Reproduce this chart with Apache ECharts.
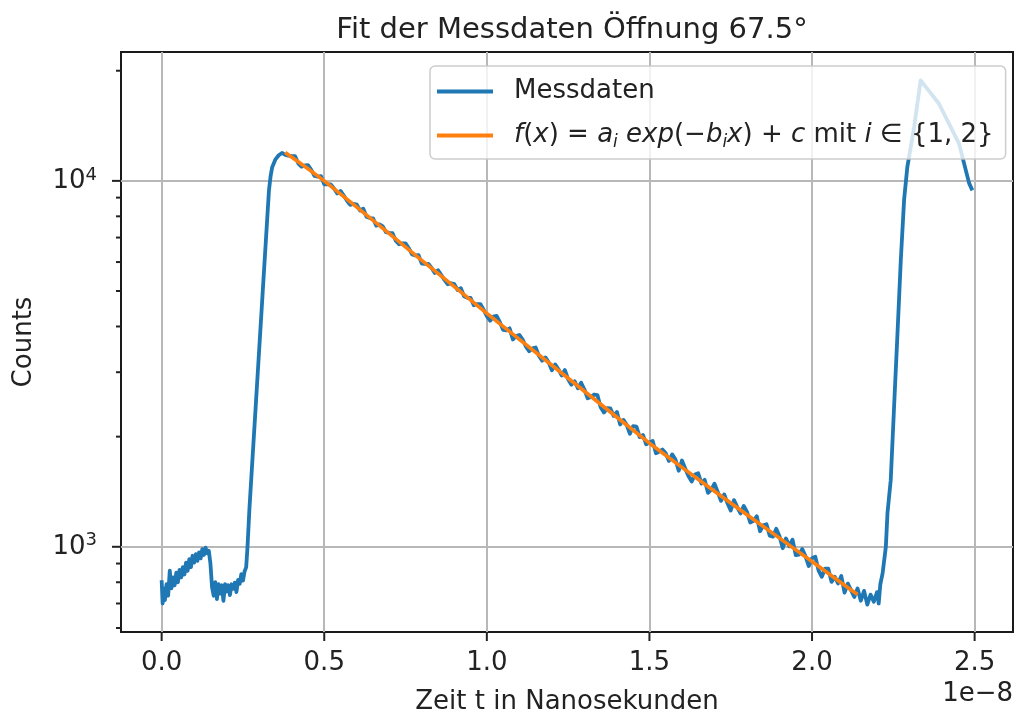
<!DOCTYPE html>
<html>
<head>
<meta charset="utf-8">
<script src="https://cdn.jsdelivr.net/npm/echarts@6/dist/echarts.min.js"></script>
<style>
  html, body { margin: 0; padding: 0; background: #fff; }
  #chart { width: 1016px; height: 720px; }
</style>
</head>
<body>
<div id="chart"></div>
<script>
// Zeit in Einheiten von 1e-8 s, Counts pro Kanal
// Untergrund vor dem Puls
const vorlauf = [
  [0.000,810],[0.003,700],[0.006,770],[0.010,715],[0.015,790],[0.020,735],[0.025,860],[0.030,770],
  [0.035,825],[0.040,785],[0.045,850],[0.050,800],[0.055,865],[0.060,825],[0.065,880],[0.070,840],
  [0.075,905],[0.080,860],[0.085,925],[0.090,880],[0.095,945],[0.100,905],[0.105,955],[0.110,915],
  [0.115,965],[0.120,930],[0.125,985],[0.130,950],[0.135,995],[0.140,960],[0.145,975],[0.150,900],
  [0.155,775],[0.160,735],[0.165,800],[0.170,720],[0.175,790],[0.180,745],[0.185,785],[0.190,712],
  [0.195,790],[0.200,755],[0.205,785],[0.210,738],[0.215,790],[0.220,768],[0.225,798],[0.230,752],
  [0.235,812],[0.240,792],[0.245,842],[0.250,808],[0.255,856],[0.260,880]
];
// Anstieg des Pulses
const anstieg = [
  [0.264,1000],[0.270,1274],[0.280,1780],[0.290,2480],[0.300,3470],[0.310,4840],[0.320,6760],
  [0.330,9420],[0.335,10300],[0.340,10900],[0.350,11450],[0.360,11750],[0.370,11920]
];
// Exponentieller Abfall
const abfall = [
  [0.38,11780],[0.39,11725],[0.40,11687],[0.41,11688],[0.42,11166],[0.43,10936],[0.44,11021],[0.45,11038],
  [0.46,10723],[0.47,10320],[0.48,10278],[0.49,10305],[0.50,9790],[0.51,9777],[0.52,9780],[0.53,9534],
  [0.54,9236],[0.55,9388],[0.56,9116],[0.57,8824],[0.58,8600],[0.59,8657],[0.60,8608],[0.61,8300],
  [0.62,8393],[0.63,7980],[0.64,7912],[0.65,7899],[0.66,7547],[0.67,7604],[0.68,7509],[0.69,7240],
  [0.70,7207],[0.71,7192],[0.72,6865],[0.73,6709],[0.74,6751],[0.75,6751],[0.76,6547],[0.77,6292],
  [0.78,6256],[0.79,6263],[0.80,5940],[0.81,5931],[0.82,5934],[0.83,5784],[0.84,5603],[0.85,5696],
  [0.86,5530],[0.87,5353],[0.88,5217],[0.89,5252],[0.90,5222],[0.91,5034],[0.92,5089],[0.93,4838],
  [0.94,4796],[0.95,4787],[0.96,4573],[0.97,4607],[0.98,4606],[0.99,4446],[1.00,4267],[1.01,4147],
  [1.02,4255],[1.03,4278],[1.04,4111],[1.05,3916],[1.06,3904],[1.07,3953],[1.08,3686],[1.09,3765],
  [1.10,3793],[1.11,3684],[1.12,3528],[1.13,3422],[1.14,3487],[1.15,3505],[1.16,3328],[1.17,3225],
  [1.18,3293],[1.19,3191],[1.20,3037],[1.21,3151],[1.22,3057],[1.23,2939],[1.24,3041],[1.25,2868],
  [1.26,2773],[1.27,2834],[1.28,2712],[1.29,2808],[1.30,2690],[1.31,2547],[1.32,2568],[1.33,2607],
  [1.34,2598],[1.35,2405],[1.36,2328],[1.37,2391],[1.38,2389],[1.39,2279],[1.40,2335],[1.41,2159],
  [1.42,2222],[1.43,2154],[1.44,2037],[1.45,2137],[1.46,2131],[1.47,1994],[1.48,2021],[1.49,1906],
  [1.50,1929],[1.51,1947],[1.52,1802],[1.53,1822],[1.54,1844],[1.55,1801],[1.56,1717],[1.57,1789],
  [1.58,1733],[1.59,1614],[1.60,1721],[1.61,1637],[1.62,1560],[1.63,1508],[1.64,1575],[1.65,1589],
  [1.66,1488],[1.67,1524],[1.68,1404],[1.69,1433],[1.70,1487],[1.71,1412],[1.72,1335],[1.73,1390],
  [1.74,1315],[1.75,1257],[1.76,1341],[1.77,1284],[1.78,1233],[1.79,1293],[1.80,1246],[1.81,1165],
  [1.82,1177],[1.83,1212],[1.84,1103],[1.85,1144],[1.86,1152],[1.87,1073],[1.88,1066],[1.89,1120],
  [1.90,1069],[1.91,991],[1.92,1054],[1.93,1003],[1.94,1046],[1.95,949],[1.96,952],[1.97,986],
  [1.98,942],[1.99,886],[2.00,931],[2.01,940],[2.02,862],[2.03,828],[2.04,871],[2.05,871],
  [2.06,802],[2.07,828],[2.08,794],[2.09,832],[2.10,750],[2.11,793],[2.12,761],[2.13,729],[2.14,769]
];
// Untergrund und zweiter Puls
const reflex = [
  [2.15,712],[2.16,758],[2.17,695],[2.18,740],[2.19,708],[2.20,752],[2.205,700],[2.21,790],
  [2.217,846],[2.227,1000],[2.232,1236],[2.242,1521],[2.252,2380],[2.262,3700],[2.273,6070],
  [2.283,8850],[2.293,10900],[2.314,14030],[2.334,18830],[2.339,19050],[2.39,16270],[2.452,12640],
  [2.483,9860],[2.493,9420]
];

// Fitkurve f(x) = a_i exp(-b_i x) + c
const fitT      = [0.38, 0.45, 0.5, 0.6, 0.7, 0.8, 0.9, 1.0, 1.1, 1.2, 1.3, 1.4, 1.5, 1.6, 1.7, 1.8, 1.9, 2.0, 2.1, 2.14];
const fitCounts = [11950, 10790, 10000, 8472, 7178, 6067, 5140, 4345, 3690, 3134, 2661, 2260, 1919, 1648, 1419, 1224, 1056, 912, 785, 741];

// Achsen
const xTicks = [0, 0.5, 1.0, 1.5, 2.0, 2.5];
const yMajorTicks = [1000, 10000];
const yMinorTicks = [600, 700, 800, 900, 2000, 3000, 4000, 5000, 6000, 7000, 8000, 9000, 20000];
const X_MIN = -0.125, X_MAX = 2.618;
const Y_MIN = 585, Y_MAX = 22500;

const FONT = '"DejaVu Sans", sans-serif';
const INK = '#222222';

const messdaten = [].concat(vorlauf, anstieg, abfall, reflex);
const fitData = fitT.map((t, i) => [t, fitCounts[i]]);

// Tick marks drawn outside the plot frame: [x, y, kind] with kind 0 = y major, 1 = y minor, 2 = x major
const tickMarks = []
  .concat(yMajorTicks.map(v => [X_MIN, v, 0]))
  .concat(yMinorTicks.map(v => [X_MIN, v, 1]))
  .concat(xTicks.map(v => [v, Y_MIN, 2]));

const gridLine = {
  show: true,
  showMinLine: false,
  showMaxLine: false,
  lineStyle: { color: '#b8b8b8', width: 2 }
};

const chart = echarts.init(document.getElementById('chart'), null, { renderer: 'canvas' });

chart.setOption({
  animation: false,
  backgroundColor: '#ffffff',
  textStyle: { fontFamily: FONT },
  title: {
    text: 'Fit der Messdaten Öffnung 67.5°',
    left: 567,
    textAlign: 'center',
    top: 11,
    textStyle: { fontFamily: FONT, fontSize: 29, fontWeight: 'normal', color: INK }
  },
  grid: {
    left: 121, right: 3, top: 52, bottom: 88,
    show: true, borderColor: '#1a1a1a', borderWidth: 2,
    containLabel: false, outerBoundsMode: 'none'
  },
  legend: {
    data: [
      { name: 'Messdaten', icon: 'rect' },
      { name: 'Fit', icon: 'rect' }
    ],
    orient: 'vertical',
    left: 430, top: 66,
    padding: [10, 12, 8, 7],
    itemGap: 13,
    itemWidth: 56, itemHeight: 4,
    backgroundColor: 'rgba(255,255,255,0.8)',
    borderColor: 'rgba(200,200,200,0.9)',
    borderWidth: 1.5,
    borderRadius: 5,
    formatter: function (name) {
      if (name === 'Fit') {
        return '{i|f}({i|x}) = {i|a}{s|i} {i|exp}(−{i|b}{s|i}{i|x}) + {i|c} mit {i|i} ∈ {1, 2}';
      }
      return name;
    },
    textStyle: {
      fontFamily: FONT, fontSize: 26, color: INK, lineHeight: 31,
      padding: [0, 0, 0, 16],
      rich: {
        i: { fontFamily: FONT, fontSize: 26, fontStyle: 'italic', color: INK, lineHeight: 31 },
        s: { fontFamily: FONT, fontSize: 17, fontStyle: 'italic', color: INK, verticalAlign: 'bottom', lineHeight: 31 }
      }
    }
  },
  xAxis: {
    type: 'value',
    min: X_MIN, max: X_MAX,
    splitNumber: 5,
    name: 'Zeit t in Nanosekunden',
    nameLocation: 'middle',
    nameGap: 57,
    nameTextStyle: { fontFamily: FONT, fontSize: 26, color: INK },
    axisLine: { show: false },
    axisTick: { show: false },
    axisLabel: {
      margin: 18,
      fontFamily: FONT, fontSize: 26, color: INK,
      showMinLabel: false, showMaxLabel: false,
      formatter: function (v) {
        return xTicks.some(t => Math.abs(t - v) < 1e-9) ? v.toFixed(1) : '';
      }
    },
    splitLine: gridLine
  },
  yAxis: {
    type: 'log',
    logBase: 10,
    min: Y_MIN, max: Y_MAX,
    name: 'Counts',
    nameLocation: 'middle',
    nameGap: 84,
    nameTextStyle: { fontFamily: FONT, fontSize: 26, color: INK },
    axisLine: { show: false },
    axisTick: { show: false },
    axisLabel: {
      margin: 24,
      fontFamily: FONT, fontSize: 26, color: INK,
      showMinLabel: false, showMaxLabel: false,
      formatter: function (v) {
        const e = Math.log10(v);
        if (Math.abs(e - Math.round(e)) > 1e-6) return '';
        return '{b|10}{p|' + Math.round(e) + '}';
      },
      rich: {
        b: { fontFamily: FONT, fontSize: 26, color: INK, lineHeight: 30 },
        p: { fontFamily: FONT, fontSize: 18, color: INK, verticalAlign: 'top', lineHeight: 30 }
      }
    },
    splitLine: gridLine
  },
  graphic: [
    {
      type: 'text',
      right: 3, top: 681,
      style: { text: '1e−8', font: '26px ' + FONT, fill: INK }
    }
  ],
  series: [
    {
      name: 'Messdaten',
      type: 'line',
      data: messdaten,
      showSymbol: false, symbol: 'none',
      color: '#1f77b4',
      lineStyle: { color: '#1f77b4', width: 3.8, join: 'round' },
      z: 3
    },
    {
      name: 'Fit',
      type: 'line',
      data: fitData,
      showSymbol: false, symbol: 'none',
      color: '#ff7f0e',
      lineStyle: { color: '#ff7f0e', width: 3.6, join: 'round' },
      z: 4
    },
    {
      name: 'ticks',
      type: 'custom',
      data: tickMarks,
      encode: { x: 0, y: 1 },
      clip: false,
      silent: true,
      z: 6,
      renderItem: function (params, api) {
        const p = api.coord([api.value(0), api.value(1)]);
        const kind = api.value(2);
        let shape;
        if (kind === 2) {
          shape = { x1: p[0], y1: p[1], x2: p[0], y2: p[1] + 9 };
        } else {
          const len = kind === 0 ? 9 : 5;
          shape = { x1: p[0] - len, y1: p[1], x2: p[0], y2: p[1] };
        }
        return { type: 'line', shape: shape, style: { stroke: '#222', lineWidth: 2 } };
      }
    }
  ]
});
</script>
</body>
</html>
